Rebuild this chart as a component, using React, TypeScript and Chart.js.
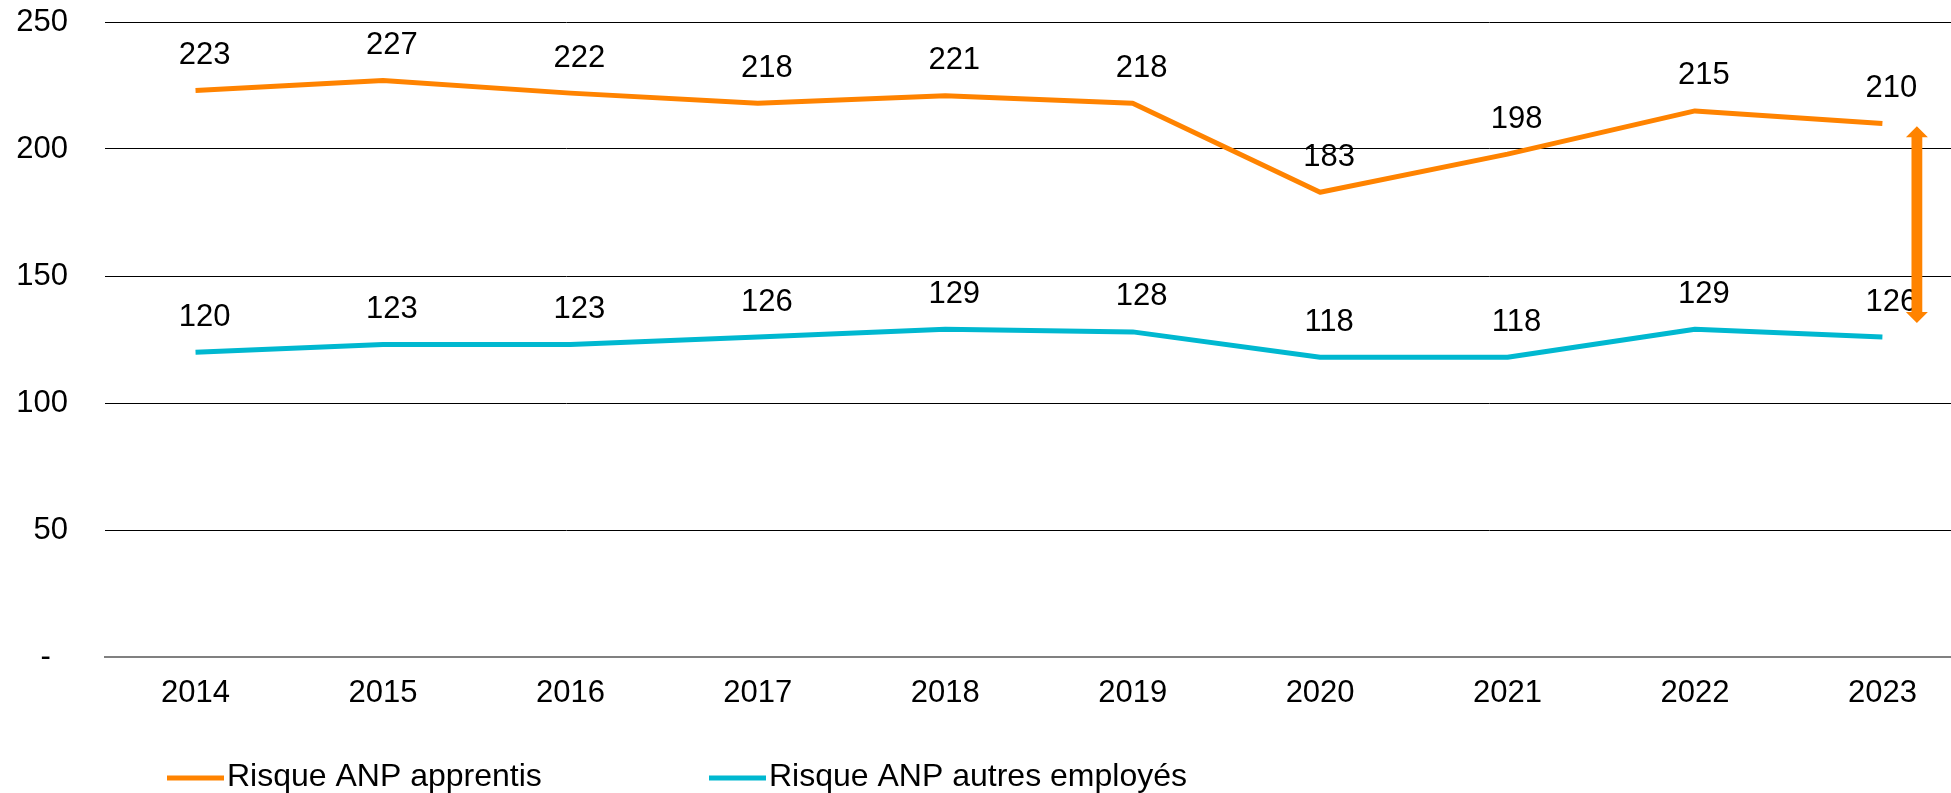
import React, { useEffect, useRef } from 'react';
import { Chart, registerables } from 'chart.js';

Chart.register(...registerables);

const years = [2014, 2015, 2016, 2017, 2018, 2019, 2020, 2021, 2022, 2023];
const apprentis = [223, 227, 222, 218, 221, 218, 183, 198, 215, 210];
const autresEmployes = [120, 123, 123, 126, 129, 128, 118, 118, 129, 126];
const seriesLabels = ['Risque ANP apprentis', 'Risque ANP autres employés'];
const seriesColors = ['#FF8300', '#00B8D0'];
const yTickValues = [0, 50, 100, 150, 200, 250];
const xRange = [2013.517, 2023.366];
const gapArrowX = 2023.184;
const gapArrowTop = 209;
const gapArrowBottom = 131.5;

const FONT_FAMILY = '"Liberation Sans", Arial, sans-serif';
const FONT_SIZE = 31;
const LEGEND_FONT_SIZE = 32;

const overlayPlugin = {
  id: 'overlay',
  afterDatasetsDraw(chart: any) {
    const ctx = chart.ctx;
    const area = chart.chartArea;
    ctx.save();
    ctx.font = `${FONT_SIZE}px ${FONT_FAMILY}`;
    ctx.fillStyle = '#000';
    ctx.textAlign = 'center';
    ctx.textBaseline = 'middle';
    chart.data.datasets.forEach((ds: any, i: number) => {
      const meta = chart.getDatasetMeta(i);
      meta.data.forEach((pt: any, j: number) => {
        ctx.fillText(String(ds.data[j].y), pt.x + 9, pt.y - 35);
      });
    });

    // double arrow showing the gap
    const xs = chart.scales.x;
    const ys = chart.scales.y;
    const ax = xs.getPixelForValue(gapArrowX);
    const yt = ys.getPixelForValue(gapArrowTop);
    const yb = ys.getPixelForValue(gapArrowBottom);
    const shaft = 5.4;
    const head = 11;
    const hl = 11;
    ctx.fillStyle = seriesColors[0];
    ctx.beginPath();
    ctx.moveTo(ax, yt);
    ctx.lineTo(ax + head, yt + hl);
    ctx.lineTo(ax + shaft, yt + hl);
    ctx.lineTo(ax + shaft, yb - hl);
    ctx.lineTo(ax + head, yb - hl);
    ctx.lineTo(ax, yb);
    ctx.lineTo(ax - head, yb - hl);
    ctx.lineTo(ax - shaft, yb - hl);
    ctx.lineTo(ax - shaft, yt + hl);
    ctx.lineTo(ax - head, yt + hl);
    ctx.closePath();
    ctx.fill();

    // legend
    const ly = area.bottom + 121;
    const starts = [area.left + 62, area.left + 604];
    ctx.textAlign = 'left';
    ctx.font = `${LEGEND_FONT_SIZE}px ${FONT_FAMILY}`;
    seriesLabels.forEach((label, i) => {
      const x0 = starts[i];
      ctx.strokeStyle = seriesColors[i];
      ctx.lineWidth = 5;
      ctx.lineCap = 'butt';
      ctx.beginPath();
      ctx.moveTo(x0, ly);
      ctx.lineTo(x0 + 57, ly);
      ctx.stroke();
      ctx.fillStyle = '#000';
      ctx.fillText(label, x0 + 60, ly - 1);
    });
    ctx.restore();
  },
};

export default function App() {
  const canvasRef = useRef<HTMLCanvasElement | null>(null);

  useEffect(() => {
    if (!canvasRef.current) return;
    const chart = new Chart(canvasRef.current, {
      type: 'line',
      data: {
        datasets: [
          {
            label: seriesLabels[0],
            data: years.map((x, i) => ({ x, y: apprentis[i] })),
            borderColor: seriesColors[0],
            backgroundColor: seriesColors[0],
            borderWidth: 5,
            pointRadius: 0,
            tension: 0,
            borderCapStyle: 'butt',
            borderJoinStyle: 'round',
          },
          {
            label: seriesLabels[1],
            data: years.map((x, i) => ({ x, y: autresEmployes[i] })),
            borderColor: seriesColors[1],
            backgroundColor: seriesColors[1],
            borderWidth: 5,
            pointRadius: 0,
            tension: 0,
            borderCapStyle: 'butt',
            borderJoinStyle: 'round',
          },
        ],
      },
      options: {
        animation: false,
        responsive: true,
        maintainAspectRatio: false,
        layout: { padding: { top: 22, bottom: 76, left: 0, right: 0 } },
        plugins: {
          legend: { display: false },
          tooltip: { enabled: false },
        },
        scales: {
          x: {
            type: 'linear',
            min: xRange[0],
            max: xRange[1],
            afterBuildTicks: (scale: any) => {
              scale.ticks = years.map((v) => ({ value: v }));
            },
            afterFit: (scale: any) => {
              scale.height = 60;
              scale.paddingLeft = 0;
              scale.paddingRight = 0;
            },
            grid: { display: false, drawTicks: false },
            border: { display: true, color: '#808080', width: 2 },
            ticks: {
              padding: 18,
              color: '#000',
              font: { family: FONT_FAMILY, size: FONT_SIZE },
              maxRotation: 0,
              autoSkip: false,
              callback: (v: any) => String(v),
            },
          },
          y: {
            min: 0,
            max: 250,
            afterBuildTicks: (scale: any) => {
              scale.ticks = yTickValues.map((v) => ({ value: v }));
            },
            afterFit: (scale: any) => {
              scale.width = 105;
              scale.paddingTop = 0;
              scale.paddingBottom = 0;
            },
            grid: {
              drawTicks: false,
              lineWidth: 1,
              color: (c: any) => (c.tick && c.tick.value === 0 ? 'rgba(0,0,0,0)' : '#000'),
            },
            border: { display: false },
            ticks: {
              padding: 37,
              color: '#000',
              font: { family: FONT_FAMILY, size: FONT_SIZE },
              callback: (v: any) => (v === 0 ? '-  ' : String(v)),
            },
          },
        },
      },
      plugins: [overlayPlugin],
    } as any);
    return () => chart.destroy();
  }, []);

  return (
    <div style={{ position: 'fixed', left: 0, top: 0, width: 1951, height: 793, background: '#fff' }}>
      <canvas ref={canvasRef} />
    </div>
  );
}
